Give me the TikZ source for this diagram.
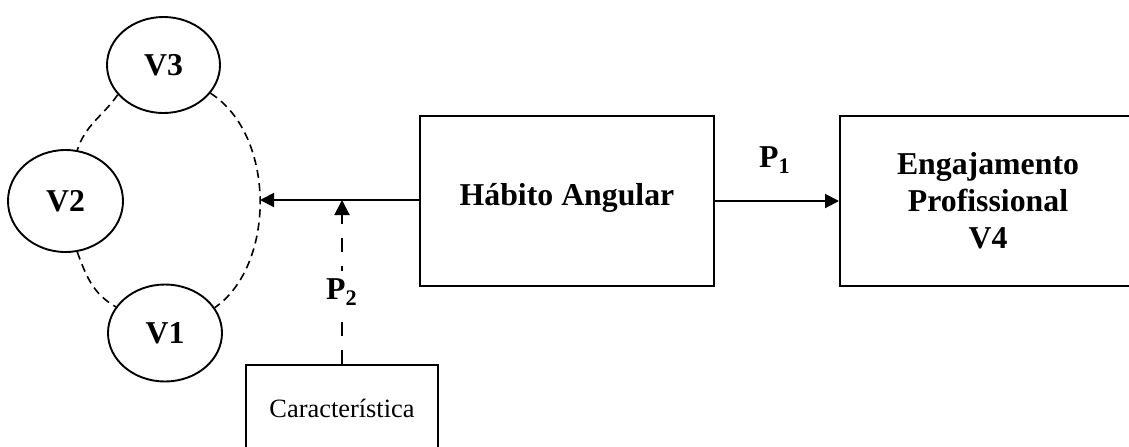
\documentclass[tikz,border=0pt]{standalone}
\usepackage{fontspec}
\setmainfont{Liberation Serif}
\usetikzlibrary{arrows.meta,shapes.geometric}
\begin{document}
\begin{tikzpicture}[x=0.5pt,y=-0.5pt,
  var/.style={draw,line width=0.95pt,ellipse,inner sep=0pt,font=\fontsize{15.9}{18.5}\selectfont\bfseries},
  bigbox/.style={draw,line width=1pt,rectangle,inner sep=0pt,align=center,font=\fontsize{15.9}{18.5}\selectfont\bfseries},
  smallbox/.style={draw,line width=1pt,rectangle,inner sep=0pt,font=\fontsize{13.2}{15}\selectfont},
  lab/.style={font=\fontsize{15.9}{18.5}\selectfont\bfseries,fill=white,inner xsep=1pt,inner ysep=4pt},
  link/.style={line width=0.8pt,dash pattern=on 4pt off 2.6pt},
  arr/.style={line width=1pt,-{Triangle[length=7pt,width=7pt]}},
  darr/.style={line width=1pt,dash pattern=on 7pt off 7pt,-{Triangle[length=7.5pt,width=7.5pt]}}
]
\clip (0,0) rectangle (1129,446);
\fill[white] (0,0) rectangle (1129,446);

\node[var,minimum width=56.5pt,minimum height=48pt] (V3) at (163.5,65) {V3};
\node[var,minimum width=57.5pt,minimum height=51pt] (V2) at (65.5,201) {V2};
\node[var,minimum width=57pt,minimum height=48.5pt] (V1) at (165,333) {V1};

\node[bigbox,minimum width=147pt,minimum height=85pt] (HA) at (567,201) {};
\node[font=\fontsize{15.9}{18.5}\selectfont\bfseries] (HAt) at (567,198) {Hábito Angular};
\node[bigbox,minimum width=148pt,minimum height=85pt] (EP) at (988,201) {Engajamento\\Profissional\\V4};
\node[smallbox,minimum width=96pt,minimum height=43pt] (CA) at (342,408) {Característica};

\coordinate (T) at (260,200);
\coordinate (J) at (342,200);

\draw[link] (V3.213) to[out=235,in=72] (V2.77);
\draw[link] (V2.283) to[out=290,in=150] (V1.152);
\draw[link] (V3.329) .. controls (276,135) and (276,265) .. (V1.27);

\draw[arr] (HA.west |- T) -- (T);
\draw[arr] (HA.east |- EP.west) -- (EP.west);
\draw[darr] (CA.north) -- (J);

\node[lab] (P1) at (775,160) {P\textsubscript{1}};
\node[lab] (P2) at (342,292) {P\textsubscript{2}};
\end{tikzpicture}
\end{document}
